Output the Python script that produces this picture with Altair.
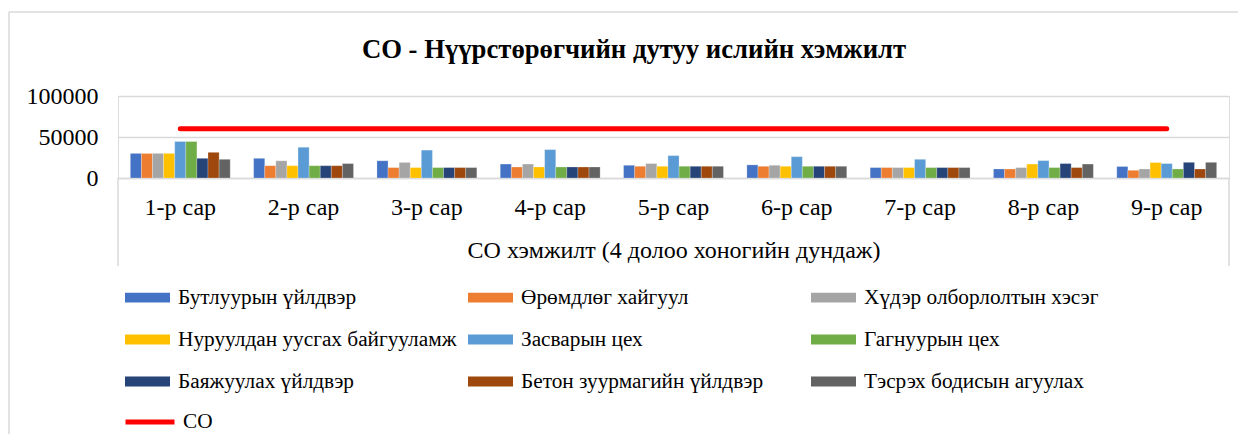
import altair as alt
import pandas as pd

months = ["1-р сар", "2-р сар", "3-р сар", "4-р сар", "5-р сар",
          "6-р сар", "7-р сар", "8-р сар", "9-р сар"]

series_names = [
    "Бутлуурын үйлдвэр", "Өрөмдлөг хайгуул", "Хүдэр олборлолтын хэсэг",
    "Нуруулдан уусгах байгууламж", "Засварын цех", "Гагнуурын цех",
    "Баяжуулах үйлдвэр", "Бетон зуурмагийн үйлдвэр", "Тэсрэх бодисын агуулах",
]
series_colors = ["#4472C4", "#ED7D31", "#A5A5A5", "#FFC000", "#5B9BD5",
                 "#70AD47", "#264478", "#9E480E", "#636363"]

butluur = [30000, 24000, 21000, 17000, 15500, 16000, 12700, 11000, 14000]
oromdlog = [30000, 15000, 12700, 13400, 14300, 14300, 12700, 11000, 9400]
hudr = [30000, 21000, 19000, 17000, 17600, 15500, 12700, 12700, 11000]
nuruul = [30000, 15000, 12700, 13400, 14300, 14300, 12700, 17000, 18800]
zasvar = [44500, 37500, 34000, 34600, 27300, 26000, 22800, 21200, 17600]
gagnuur = [44500, 15000, 12700, 13400, 14300, 14300, 12700, 12700, 11000]
bayajuulah = [24000, 15000, 12700, 13400, 14300, 14300, 12700, 17600, 19100]
beton = [31300, 15000, 12700, 13400, 14300, 14300, 12700, 12700, 11000]
tesreh = [22800, 17600, 12700, 13400, 14300, 14300, 12700, 17000, 19100]
co_limit = [60000, 60000, 60000, 60000, 60000, 60000, 60000, 60000, 60000]

title_text = ["CO - Нүүрстөрөгчийн дутуу ислийн хэмжилт"]
x_title = "СО хэмжилт (4 долоо хоногийн дундаж)"

all_series = [butluur, oromdlog, hudr, nuruul, zasvar, gagnuur, bayajuulah, beton, tesreh]

rows = []
for name, vals in zip(series_names, all_series):
    for m, v in zip(months, vals):
        rows.append({"month": m, "series": name, "value": v})
bars_df = pd.DataFrame(rows)
line_df = pd.DataFrame({"month": months, "value": co_limit, "name": ["CO"] * len(months)})

FONT = "Liberation Serif, Times New Roman, serif"
W, H = 1111, 82

rect_path = "M-1,-0.22H1V0.22H-1Z"

x_enc = alt.X("month:N", sort=months,
              scale=alt.Scale(paddingInner=0.19, paddingOuter=0.1),
              axis=alt.Axis(title=x_title,
                            labelAngle=0, labelFont=FONT, labelFontSize=24,
                            labelColor="#000000", labelPadding=17,
                            ticks=False, domainColor="#D9D9D9", domainWidth=1.5,
                            titleFont=FONT, titleFontSize=24, titleFontWeight="normal",
                            titleColor="#000000", titlePadding=19))
y_enc = alt.Y("value:Q", scale=alt.Scale(domain=[0, 100000]),
              axis=alt.Axis(title=None, values=[0, 50000, 100000], format="d",
                            labelFont=FONT, labelFontSize=24, labelColor="#000000",
                            labelPadding=20, ticks=False, domain=False,
                            gridColor="#D9D9D9", gridWidth=1.5))

bars = alt.Chart(bars_df).mark_bar(stroke="#FFFFFF", strokeWidth=0.4, strokeOpacity=0.6).encode(
    x=x_enc,
    xOffset=alt.XOffset("series:N", sort=series_names),
    y=y_enc,
    fill=alt.Fill("series:N", sort=series_names,
                  scale=alt.Scale(domain=series_names, range=series_colors),
                  legend=alt.Legend(title=None, orient="none", legendX=7, legendY=179,
                                    direction="horizontal",
                                    columns=3, gridAlign="all", columnPadding=11,
                                    rowPadding=9, symbolType=rect_path,
                                    symbolSize=2025, symbolStrokeWidth=0,
                                    labelFont=FONT, labelFontSize=21.3,
                                    labelColor="#000000", labelOffset=8,
                                    labelLimit=400)),
)

line = alt.Chart(line_df).mark_line(strokeWidth=5, strokeCap="round").encode(
    x=alt.X("month:N", sort=months),
    y=alt.Y("value:Q"),
    stroke=alt.Stroke("name:N", scale=alt.Scale(domain=["CO"], range=["#FF0000"]),
                      legend=alt.Legend(title=None, orient="none", legendX=5, legendY=299,
                                        symbolType="stroke", symbolSize=2400,
                                        symbolStrokeWidth=5, labelFont=FONT,
                                        labelFontSize=21.3, labelColor="#000000",
                                        labelOffset=6)),
)

title_mark = alt.Chart(pd.DataFrame({"t": title_text})).mark_text(
    font=FONT, fontSize=26.7, fontWeight="bold", color="#000000",
    align="center", baseline="middle",
).encode(text="t:N", x=alt.value(516), y=alt.value(-46))

dummy = pd.DataFrame({"a": [0]})
frame_left = alt.Chart(dummy).mark_rule(color="#D9D9D9", strokeWidth=1.5).encode(
    x=alt.value(-109), y=alt.value(-84), y2=alt.value(338))
frame_top = alt.Chart(dummy).mark_rule(color="#D9D9D9", strokeWidth=1.5).encode(
    x=alt.value(-109), x2=alt.value(1120), y=alt.value(-84))
box_left = alt.Chart(dummy).mark_rule(color="#D9D9D9", strokeWidth=1.5).encode(
    x=alt.value(0), y=alt.value(H), y2=alt.value(170))
box_right = alt.Chart(dummy).mark_rule(color="#D9D9D9", strokeWidth=1.5).encode(
    x=alt.value(W), y=alt.value(H), y2=alt.value(170))

chart = alt.layer(bars, line, title_mark, frame_left, frame_top, box_left, box_right).resolve_scale(
    x="shared", y="shared"
).properties(
    width=W, height=H,
    padding={"left": 0, "top": 3, "right": 0, "bottom": 0},
).configure_view(stroke=None).configure(background="#FFFFFF")

chart.save("out.html", embed_options={"renderer": "svg", "actions": False})
